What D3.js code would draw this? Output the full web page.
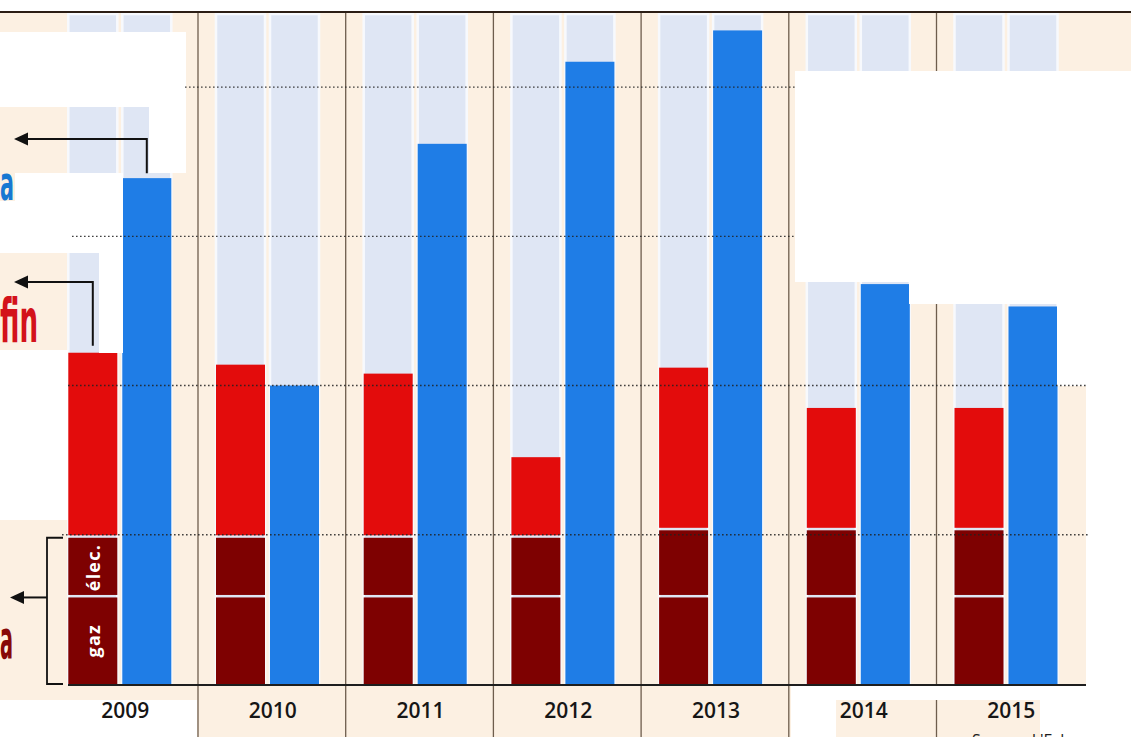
<!DOCTYPE html>
<html><head><meta charset="utf-8">
<script src="https://cdn.jsdelivr.net/npm/d3@7/dist/d3.min.js"></script>
<style>html,body{margin:0;padding:0;background:#fff;overflow:hidden}svg{display:block}</style>
</head><body>
<svg id="c" width="1131" height="737"></svg>
<script>
// ---- data ----
const years = ["2009","2010","2011","2012","2013","2014","2015"];
const gaz   = [29, 29, 29, 29, 29, 29, 29];
const elec  = [20, 20, 20, 20, 22.5, 22.5, 22.5];
const autre = [62, 58, 55, 27, 54.5, 41, 41];
const bleu  = [169.5, 100, 181, 208.5, 219, 134, 126.5];
const yTicks = [50, 100, 150, 200];
const segLabels = ["gaz", "élec."];

// ---- setup ----
const W = 1131, H = 737;
const svg = d3.select("#c");
const CREAM = "#fcf0e2", LBLUE = "#dfe6f4", RED = "#e30c0c", DRED = "#7e0101", BLUE = "#1f7de6";

const x0 = d3.scaleBand().domain(years).range([50.3, 1084.2]);
const x1 = d3.scaleBand().domain(["rouge","bleu"]).range([18, 121]).paddingInner(5/54);
const y = d3.scaleLinear().domain([0, 224.5]).range([684, 14]);

const rows = years.map((yr, i) => ({year: yr, gaz: gaz[i], elec: elec[i], autre: autre[i], bleu: bleu[i]}));
const stack = d3.stack().keys(["gaz","elec","autre"])(rows);
const segColor = {gaz: DRED, elec: DRED, autre: RED};

// background
svg.append("rect").attr("width", W).attr("height", H).attr("fill", CREAM);
svg.append("rect").attr("width", W).attr("height", 12).attr("fill", "#fff");

// light blue background columns
const gCol = svg.selectAll("g.col").data(rows).join("g").attr("class","col")
  .attr("transform", d => `translate(${x0(d.year)},0)`);
gCol.selectAll("rect.bg").data(["rouge","bleu"]).join("rect").attr("class","bg")
  .attr("x", k => x1(k)).attr("width", x1.bandwidth())
  .attr("y", y.range()[1]).attr("height", y(0) - y.range()[1])
  .attr("fill", LBLUE).attr("stroke", "#f7f9fd").attr("stroke-width", 2.5);

// separators
svg.selectAll("line.sep").data(years.slice(1)).join("line").attr("class","sep")
  .attr("x1", d => x0(d)).attr("x2", d => x0(d)).attr("y1", 12).attr("y2", H)
  .attr("stroke", "#6e5d4d").attr("stroke-width", 1.3);

// stacked bars
stack.forEach((layer, li) => {
  svg.append("g").selectAll("rect").data(layer).join("rect")
    .attr("x", d => x0(d.data.year) + x1("rouge"))
    .attr("width", x1.bandwidth())
    .attr("y", d => y(d[1]))
    .attr("height", d => Math.max(0, y(d[0]) - y(d[1]) - (li > 0 ? 2.5 : 0)))
    .attr("fill", segColor[layer.key]);
});

// blue bars
svg.append("g").selectAll("rect").data(rows).join("rect")
  .attr("x", d => x0(d.year) + x1("bleu"))
  .attr("width", x1.bandwidth())
  .attr("y", d => y(d.bleu))
  .attr("height", d => y(0) - y(d.bleu))
  .attr("fill", BLUE);

// baseline
svg.append("line").attr("x1", 68).attr("x2", 1086).attr("y1", y(0)+1).attr("y2", y(0)+1)
  .attr("stroke", "#1e1e1e").attr("stroke-width", 2.2);

// white patches (image collage areas)
const patches = [
  [0, 32, 186, 75], [149, 107, 37, 66], [0, 173, 123, 80], [99, 253, 24, 100],
  [0, 350, 68, 170], [0, 700, 197, 37],
  [795, 71, 336, 211], [909, 282, 222, 22], [1057, 304, 74, 82], [1086, 386, 45, 300],
  [791, 686, 340, 14], [791, 700, 45, 37], [1040, 700, 91, 37]
];
svg.append("g").selectAll("rect").data(patches).join("rect")
  .attr("x", d => d[0]).attr("y", d => d[1]).attr("width", d => d[2]).attr("height", d => d[3])
  .attr("fill", "#fff");
svg.append("rect").attr("x", 0).attr("y", 173).attr("width", 15).attr("height", 28).attr("fill", CREAM);

// dotted gridlines
const gx = {50: [62, 1090], 100: [68, 1086], 150: [72, 795], 200: [185, 795]};
svg.append("g").selectAll("line").data(yTicks).join("line")
  .attr("x1", d => gx[d][0]).attr("x2", d => gx[d][1])
  .attr("y1", d => y(d)).attr("y2", d => y(d))
  .attr("stroke", "#222").attr("stroke-width", 1.4).attr("stroke-dasharray", "1.6,2.4")
  .attr("opacity", 0.85);

// top border
svg.append("line").attr("x1", 0).attr("x2", W).attr("y1", 12).attr("y2", 12)
  .attr("stroke", "#2b1d14").attr("stroke-width", 2);

// labels inside 2009 dark red segments
const first = rows[0];
const cx = x0(first.year) + x1("rouge") + x1.bandwidth()/2;
[["gaz", 0], ["elec", 1]].forEach(([k, li], j) => {
  const seg = stack[li][0];
  const cy = (y(seg[0]) + y(seg[1])) / 2;
  svg.append("text").text(segLabels[j])
    .attr("transform", `translate(${cx + 1},${cy}) rotate(-90)`)
    .attr("text-anchor", "middle").attr("dy", "0.35em")
    .attr("fill", "#fff").attr("font-family", "'Open Sans', sans-serif")
    .attr("font-weight", 700).attr("font-size", 18).attr("letter-spacing", 1.2);
});

// annotations (arrows)
function arrow(pts, tipX, tipY) {
  svg.append("path").attr("d", d3.line()(pts)).attr("fill", "none")
    .attr("stroke", "#111").attr("stroke-width", 2);
  svg.append("path").attr("d", `M${tipX},${tipY} L${tipX+14},${tipY-6.5} L${tipX+14},${tipY+6.5} Z`).attr("fill", "#111");
}
const bx = x0(first.year) + x1("bleu") + x1.bandwidth()/2;
arrow([[bx, y(first.bleu) - 5], [bx, 139], [24, 139]], 14, 139);
const rTop = first.gaz + first.elec + first.autre;
arrow([[cx, y(rTop) - 7], [cx, 282], [24, 282]], 14, 282);
// bracket
const eTop = y(first.gaz + first.elec);
svg.append("path").attr("d", `M63,${eTop} L47,${eTop} L47,${y(0)} L63,${y(0)}`)
  .attr("fill", "none").attr("stroke", "#111").attr("stroke-width", 1.8);
arrow([[47, y(first.gaz)], [22, y(first.gaz)]], 10, y(first.gaz));

// cut-off legend words
const condensed = "'DejaVu Sans Condensed', 'Liberation Sans Narrow', sans-serif";
svg.append("text").text("a").attr("x", 0).attr("y", 200)
  .attr("font-family", condensed).attr("font-weight", 700).attr("font-size", 48)
  .attr("textLength", 14).attr("lengthAdjust", "spacingAndGlyphs").attr("fill", "#1778d2");
svg.append("text").text("fin").attr("x", 0).attr("y", 342)
  .attr("font-family", condensed).attr("font-weight", 700).attr("font-size", 60)
  .attr("textLength", 38).attr("lengthAdjust", "spacingAndGlyphs").attr("fill", "#d3121a");
svg.append("text").text("a").attr("x", 0).attr("y", 658)
  .attr("font-family", condensed).attr("font-weight", 700).attr("font-size", 54)
  .attr("textLength", 13).attr("lengthAdjust", "spacingAndGlyphs").attr("fill", "#870808");

// year labels
svg.append("g").selectAll("text").data(years).join("text")
  .attr("x", d => x0(d) + x0.bandwidth()/2 + 1).attr("y", 718)
  .attr("text-anchor", "middle").attr("font-family", "'Open Sans', sans-serif")
  .attr("font-size", 21).attr("font-weight", 600).attr("fill", "#161616").text(d => d);

// source (cut off at bottom, as in the reference)
svg.append("text").attr("x", 972).attr("y", 746)
  .attr("font-family", "'Open Sans', sans-serif").attr("font-size", 16).attr("fill", "#1e1e1e")
  .text("Source: L'Echo");
</script>
</body></html>
